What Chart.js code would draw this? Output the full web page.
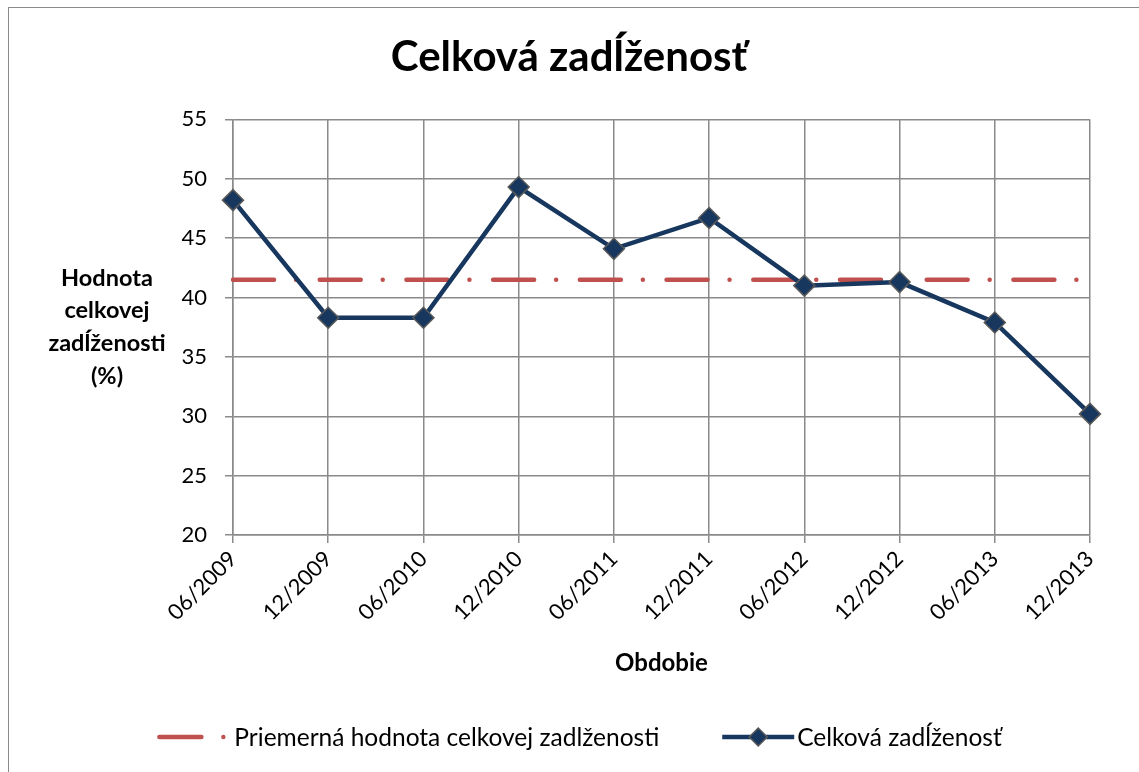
<!DOCTYPE html>
<html>
<head>
<meta charset="utf-8">
<script src="https://cdn.jsdelivr.net/npm/chart.js@4.4.1/dist/chart.umd.min.js"></script>
<style>
  html, body { margin: 0; padding: 0; background: #fff; }
  body { width: 1139px; height: 772px; position: relative; overflow: hidden; }
  #ramik { position: absolute; left: 8px; top: 7px; width: 1200px; height: 800px;
           border-left: 1.5px solid #8a8a8a; border-top: 1.5px solid #8a8a8a; }
  #obal { position: absolute; left: 0; top: 0; width: 1139px; height: 772px; }
</style>
</head>
<body>
<div id="ramik"></div>
<div id="obal"><canvas id="graf"></canvas></div>
<script>
// Obdobia (kategórie na osi X)
var obdobia = ['06/2009', '12/2009', '06/2010', '12/2010', '06/2011',
               '12/2011', '06/2012', '12/2012', '06/2013', '12/2013'];

// Celková zadĺženosť v %
var zadlzenost = [48.2, 38.3, 38.3, 49.3, 44.1, 46.7, 41.0, 41.3, 37.9, 30.2];

// Priemerná hodnota (vodorovná čiara)
var priemer = [41.5, 41.5, 41.5, 41.5, 41.5, 41.5, 41.5, 41.5, 41.5, 41.5];

// Popisy osi Y
var osY = { min: 20, max: 55, krok: 5 };

var pismo = 'Lato, "Open Sans", sans-serif';
var modra = '#17375E';
var cervena = '#C0504D';
var mriezka = '#8a8a8a';

// Vodorovný popis osi Y (Excel ho má nerotovaný vľavo)
var popisOsiY = {
    id: 'popisOsiY',
    afterDraw: function(chart) {
        var ctx = chart.ctx;
        var area = chart.chartArea;
        var riadky = ['Hodnota', 'celkovej', 'zadĺženosti', '(%)'];
        var vyska = 32.7;
        var stred = (area.top + area.bottom) / 2;
        ctx.save();
        ctx.font = 'bold 23.5px ' + pismo;
        ctx.fillStyle = '#000';
        ctx.textAlign = 'center';
        ctx.textBaseline = 'middle';
        for (var i = 0; i < riadky.length; i++) {
            ctx.fillText(riadky[i], 107, stred + (i - 1.5) * vyska);
        }
        ctx.restore();
    }
};

// Vlastná legenda dole (vzorka čiary + text)
var legenda = {
    id: 'legenda',
    afterDraw: function(chart) {
        var ctx = chart.ctx;
        var ds = chart.data.datasets;
        var y = 737;
        var vzorka = 67;
        var medzera = 10;
        var odstup = 63;
        ctx.save();
        ctx.font = '24.5px ' + pismo;
        var t1 = ctx.measureText(ds[0].label).width;
        var t2 = ctx.measureText(ds[1].label).width;
        var spolu = vzorka + medzera + t1 + odstup + vzorka + medzera + t2;
        var x = chart.width / 2 + 11 - spolu / 2;

        // priemer: čiarka + bodka
        ctx.strokeStyle = ds[0].borderColor;
        ctx.fillStyle = ds[0].borderColor;
        ctx.lineWidth = 4.5;
        ctx.lineCap = 'round';
        ctx.beginPath();
        ctx.moveTo(x + 2, y);
        ctx.lineTo(x + 44, y);
        ctx.stroke();
        ctx.beginPath();
        ctx.arc(x + 66, y, 2.2, 0, Math.PI * 2);
        ctx.fill();
        ctx.fillStyle = '#000';
        ctx.textAlign = 'left';
        ctx.textBaseline = 'middle';
        ctx.fillText(ds[0].label, x + vzorka + medzera, y + 1);

        // zadĺženosť: čiara + kosoštvorec
        var x2 = x + vzorka + medzera + t1 + odstup;
        ctx.strokeStyle = ds[1].borderColor;
        ctx.lineWidth = 4.5;
        ctx.lineCap = 'butt';
        ctx.beginPath();
        ctx.moveTo(x2, y);
        ctx.lineTo(x2 + 72, y);
        ctx.stroke();
        ctx.fillStyle = ds[1].pointBackgroundColor;
        ctx.strokeStyle = ds[1].pointBorderColor;
        ctx.lineWidth = 1.5;
        var cx = x2 + 36, r = 9;
        ctx.beginPath();
        ctx.moveTo(cx, y - r);
        ctx.lineTo(cx + r, y);
        ctx.lineTo(cx, y + r);
        ctx.lineTo(cx - r, y);
        ctx.closePath();
        ctx.fill();
        ctx.stroke();
        ctx.fillStyle = '#000';
        ctx.fillText(ds[1].label, x2 + 75, y + 1);
        ctx.restore();
    }
};

document.addEventListener('DOMContentLoaded', function() {
    var canvas = document.getElementById('graf');

    var data = {
        labels: obdobia,
        datasets: [
            {
                label: 'Priemerná hodnota celkovej zadlženosti',
                data: priemer,
                borderColor: cervena,
                backgroundColor: cervena,
                borderWidth: 4.5,
                borderDash: [41, 22, 0.01, 23.7],
                borderCapStyle: 'round',
                pointRadius: 0,
                pointHoverRadius: 0,
                order: 2
            },
            {
                label: 'Celková zadĺženosť',
                data: zadlzenost,
                borderColor: modra,
                backgroundColor: modra,
                borderWidth: 4.5,
                pointStyle: 'rectRot',
                pointRadius: 10.5,
                pointHoverRadius: 10.5,
                pointBackgroundColor: modra,
                pointBorderColor: '#5a5a5a',
                pointBorderWidth: 1.5,
                order: 1
            }
        ]
    };

    var options = {
        responsive: true,
        maintainAspectRatio: false,
        animation: false,
        layout: { padding: { left: 10, right: 11, top: 0, bottom: 57 } },
        plugins: {
            legend: { display: false },
            tooltip: { enabled: false },
            title: {
                display: true,
                text: 'Celková zadĺženosť',
                color: '#000',
                font: { family: pismo, size: 42, weight: 'bold' },
                padding: { top: 32, bottom: 37 }
            }
        },
        scales: {
            x: {
                offset: false,
                afterFit: function(s) { s.height = 180; },
                grid: { color: mriezka, lineWidth: 1.5, tickLength: 8, tickColor: mriezka, offset: false },
                border: { color: mriezka, width: 1.5 },
                ticks: {
                    color: '#000',
                    font: { family: pismo, size: 22 },
                    minRotation: 45,
                    maxRotation: 45,
                    padding: 3,
                    autoSkip: false
                },
                title: {
                    display: true,
                    text: 'Obdobie',
                    color: '#000',
                    font: { family: pismo, size: 24, weight: 'bold' },
                    padding: { top: 0, bottom: 37 }
                }
            },
            y: {
                min: osY.min,
                max: osY.max,
                afterFit: function(s) { s.width = 223; },
                grid: { color: mriezka, lineWidth: 1.5, tickLength: 8, tickColor: mriezka },
                border: { color: mriezka, width: 1.5 },
                ticks: {
                    stepSize: osY.krok,
                    color: '#000',
                    font: { family: pismo, size: 22 },
                    padding: 18
                }
            },
            // prázdny pravý okraj, aby bol nadpis centrovaný ako v Exceli
            okraj: {
                type: 'linear',
                position: 'right',
                display: true,
                afterFit: function(s) { s.width = 38; },
                grid: { display: false },
                border: { display: false },
                ticks: { display: false }
            }
        }
    };

    new Chart(canvas, {
        type: 'line',
        data: data,
        options: options,
        plugins: [popisOsiY, legenda]
    });
});
</script>
</body>
</html>
